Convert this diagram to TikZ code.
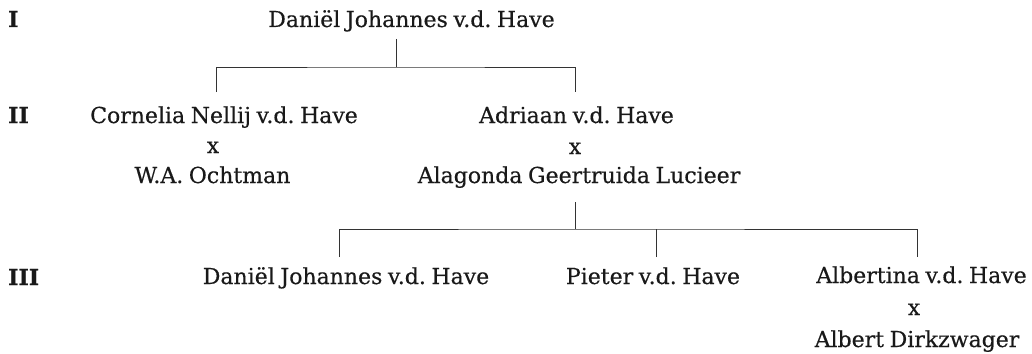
\documentclass[tikz,border=0pt]{standalone}
\usepackage{fontspec}
\setmainfont{DejaVu Serif}[WordSpace=0.8,FakeBold=0.4]
\frenchspacing
\begin{document}
\begin{tikzpicture}[x=1pt,y=-1pt,
  person/.style={anchor=base,inner sep=0pt,font=\fontsize{22}{26}\selectfont,text=black!90},
  gen/.style={anchor=base west,inner sep=0pt,font=\fontsize{22}{26}\selectfont\bfseries,text=black!90},
  link/.style={line width=0.9pt,draw=black!80}]
\useasboundingbox (0,0) rectangle (1032,353);
% generation labels
\node[gen] (gI) at (8,27) {I};
\node[gen] (gII) at (8,123) {II};
\node[gen] (gIII) at (8,285) {III};
% generation I
\node[person] (dj1) at (411.5,27) {Daniël Johannes v.d. Have};
% generation II
\node[person] (cn) at (224,123) {Cornelia Nellij v.d. Have};
\node[person] (cnx) at (213,153) {x};
\node[person] (wao) at (212.5,183) {W.A. Ochtman};
\node[person] (ad) at (576.5,123) {Adriaan v.d. Have};
\node[person] (adx) at (575,154) {x};
\node[person] (agl) at (579,183) {Alagonda Geertruida Lucieer};
% generation III
\node[person] (dj2) at (346,284) {Daniël Johannes v.d. Have};
\node[person] (pv) at (653,284) {Pieter v.d. Have};
\node[person] (av) at (921.5,283) {Albertina v.d. Have};
\node[person] (avx) at (914,315) {x};
\node[person] (adz) at (917,347) {Albert Dirkzwager};
% connector points
\coordinate (t0) at (396,39);
\coordinate (t1) at (396,67);
\coordinate (tL) at (216,92);
\coordinate (tR) at (575,92);
\coordinate (m0) at (575,202);
\coordinate (m1) at (575,229);
\coordinate (mL) at (339,257);
\coordinate (mM) at (656,257);
\coordinate (mR) at (917,257);
\draw[link] (t0) -- (t1);
\draw[link] (tL) |- (t1) -| (tR);
\draw[link] (m0) -- (m1);
\draw[link] (mL) |- (m1) -| (mR);
\draw[link] (mM) -- (mM |- m1);
\end{tikzpicture}
\end{document}
